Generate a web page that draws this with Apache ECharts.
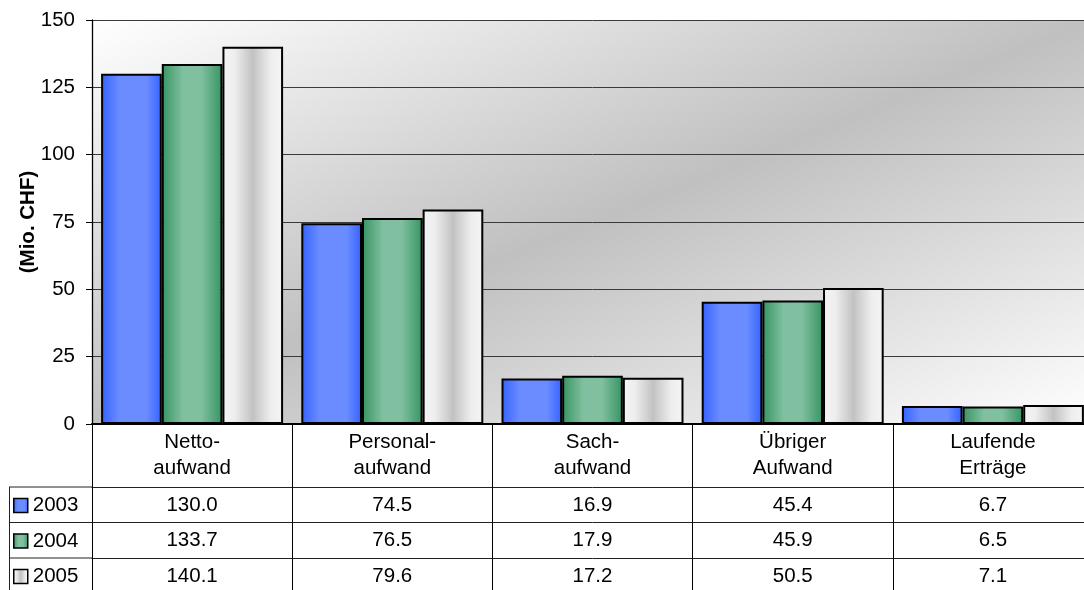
<!DOCTYPE html>
<html>
<head>
<meta charset="utf-8">
<script src="https://cdn.jsdelivr.net/npm/echarts@6/dist/echarts.min.js"></script>
<style>
html,body{margin:0;padding:0;background:#fff;overflow:hidden;width:1084px;height:590px;}
#chart{width:1094px;height:590px;}
</style>
</head>
<body>
<div id="chart"></div>
<script>
const categories = ['Netto-\naufwand', 'Personal-\naufwand', 'Sach-\naufwand', 'Übriger\nAufwand', 'Laufende\nErträge'];
const years = ['2003', '2004', '2005'];
const values2003 = [130.0, 74.5, 16.9, 45.4, 6.7];
const values2004 = [133.7, 76.5, 17.9, 45.9, 6.5];
const values2005 = [140.1, 79.6, 17.2, 50.5, 7.1];
const yMin = 0, yMax = 150, yInterval = 25;

const FONT = "'Liberation Sans', Arial, sans-serif";
const FS = 20.5;
const chart = echarts.init(document.getElementById('chart'), null, {renderer: 'canvas'});

function hGrad(stops) {
  return new echarts.graphic.LinearGradient(0, 0, 1, 0, stops.map(s => ({offset: s[0], color: s[1]})));
}
const colors = [
  hGrad([[0, '#3462ff'], [0.3, '#6a8cff'], [0.75, '#6a8cff'], [1, '#3462ff']]),
  hGrad([[0, '#379462'], [0.35, '#80c0a0'], [0.65, '#80c0a0'], [1, '#379462']]),
  hGrad([[0, '#f4f4f4'], [0.2, '#eeeeee'], [0.5, '#c2c2c2'], [0.8, '#eeeeee'], [1, '#f4f4f4']])
];
const seriesValues = [values2003, values2004, values2005];

const gridLeft = 92, gridTop = 20, gridH = 404, gridW = 1001;
const rowOffsets = [63, 98.5, 134];

const tableAxes = seriesValues.map((vals, i) => ({
  type: 'category',
  gridIndex: 0,
  position: 'bottom',
  offset: rowOffsets[i],
  data: vals.map(v => v.toFixed(1)),
  axisLine: {show: true, lineStyle: {color: '#222', width: 1}},
  axisTick: {show: false},
  axisLabel: {interval: 0, margin: 8, color: '#000', fontSize: FS, fontFamily: FONT, lineHeight: 20}
}));

const legends = years.map((y, i) => ({
  data: [y],
  left: 13,
  top: 487 + i * 35.5 + 8,
  padding: 0,
  itemWidth: 14,
  itemHeight: 14,
  icon: 'rect',
  selectedMode: false,
  itemStyle: {borderColor: '#000', borderWidth: 1.5},
  textStyle: {fontSize: FS, fontFamily: FONT, color: '#000'}
}));

const option = {
  animation: false,
  backgroundColor: '#fff',
  textStyle: {fontFamily: FONT},
  legend: legends,
  grid: {
    left: gridLeft, top: gridTop, width: gridW, height: gridH,
    show: true, borderWidth: 0,
    backgroundColor: new echarts.graphic.LinearGradient(0, 0, 0.28, 1.72, [
      {offset: 0, color: '#ffffff'},
      {offset: 0.5, color: '#c0c0c0'},
      {offset: 1, color: '#ffffff'}
    ])
  },
  xAxis: [{
    type: 'category',
    data: categories,
    axisLine: {show: true, lineStyle: {color: '#000', width: 2}},
    axisTick: {show: true, length: 166, alignWithLabel: false, lineStyle: {color: '#000', width: 1}},
    axisLabel: {interval: 0, margin: 5, color: '#000', fontSize: FS, fontFamily: FONT, lineHeight: 26}
  }].concat(tableAxes),
  yAxis: {
    type: 'value',
    min: yMin, max: yMax, interval: yInterval,
    name: '(Mio. CHF)',
    nameLocation: 'middle',
    nameGap: 53,
    nameMoveOverlap: false,
    nameRotate: 90,
    nameTextStyle: {fontWeight: 'bold', fontSize: FS, color: '#000', fontFamily: FONT},
    axisLine: {show: true, lineStyle: {color: '#000', width: 1.3}},
    axisTick: {show: true, length: 6, lineStyle: {color: '#000'}},
    axisLabel: {margin: 17, color: '#000', fontSize: FS, fontFamily: FONT},
    splitLine: {show: true, lineStyle: {color: '#3a3a3a', width: 1}}
  },
  series: years.map((y, i) => ({
    name: y,
    type: 'bar',
    data: seriesValues[i],
    barGap: '0%',
    barCategoryGap: '9.1%',
    itemStyle: {color: colors[i], borderColor: '#000', borderWidth: 2},
    emphasis: {disabled: true}
  })),
  graphic: [
    {type: 'line', shape: {x1: 9, y1: 487, x2: 92, y2: 487}, style: {stroke: '#222', lineWidth: 1}, silent: true},
    {type: 'line', shape: {x1: 9, y1: 522.5, x2: 92, y2: 522.5}, style: {stroke: '#222', lineWidth: 1}, silent: true},
    {type: 'line', shape: {x1: 9, y1: 558, x2: 92, y2: 558}, style: {stroke: '#222', lineWidth: 1}, silent: true},
    {type: 'line', shape: {x1: 9.5, y1: 487, x2: 9.5, y2: 590}, style: {stroke: '#222', lineWidth: 1}, silent: true}
  ]
};
chart.setOption(option);
</script>
</body>
</html>
